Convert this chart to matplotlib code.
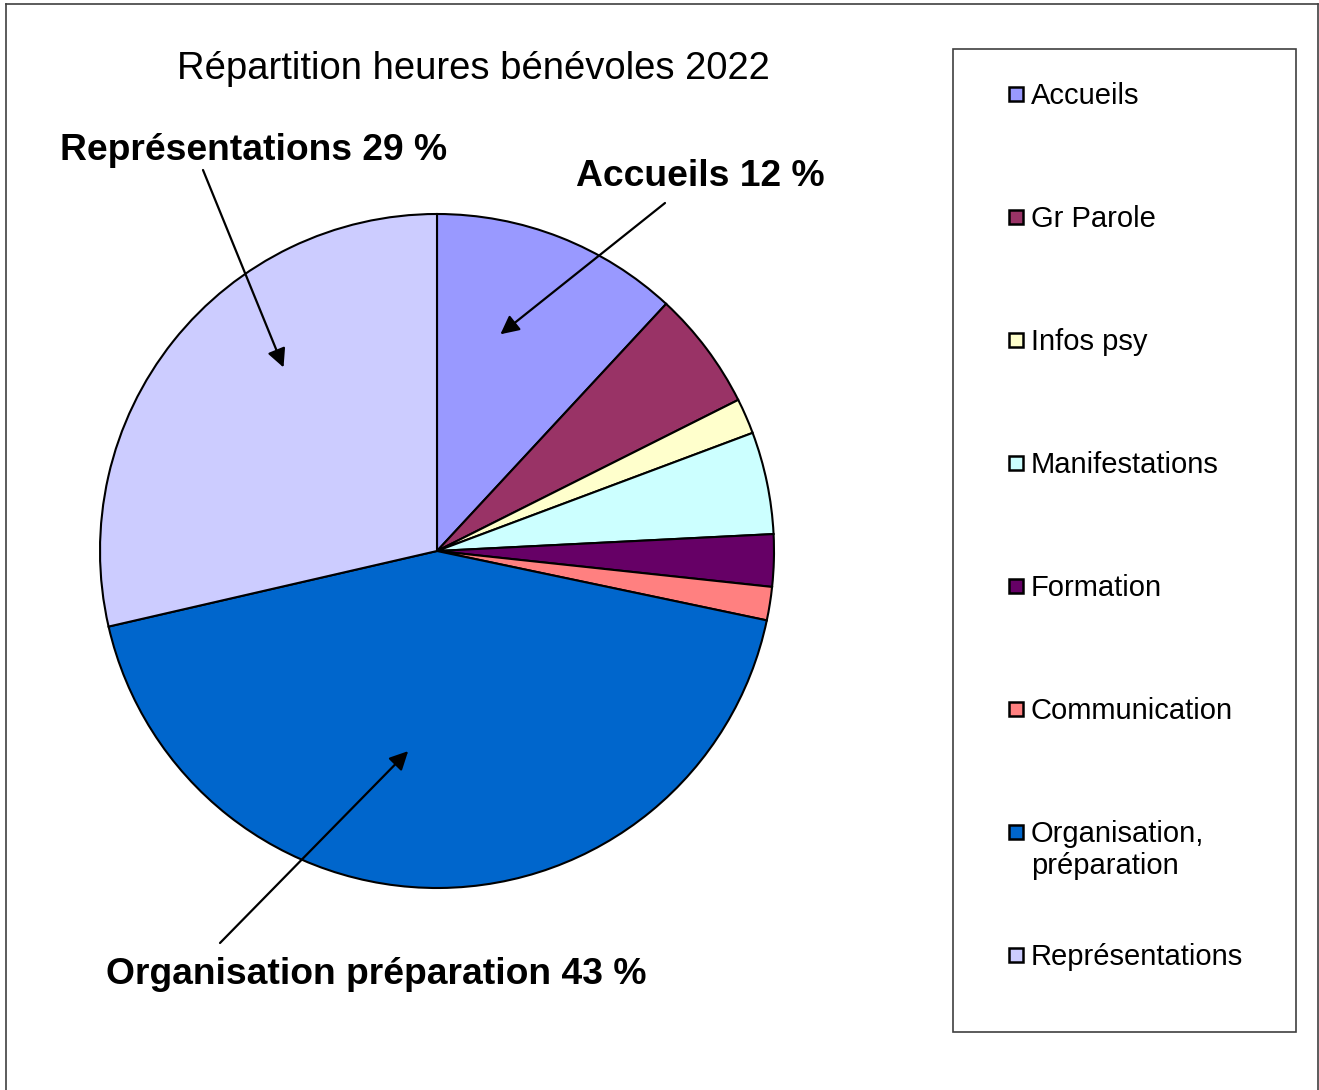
import matplotlib.pyplot as plt
from matplotlib.patches import Rectangle
from matplotlib.lines import Line2D
import numpy as np

plt.rcParams['font.family'] = ['Liberation Sans', 'DejaVu Sans']

# donnees
categories = ['Accueils', 'Gr Parole', 'Infos psy', 'Manifestations', 'Formation',
              'Communication', 'Organisation, préparation', 'Représentations']
legend_labels = ['Accueils', 'Gr Parole', 'Infos psy', 'Manifestations', 'Formation',
                 'Communication', 'Organisation,\npréparation', 'Représentations']
pourcentages = [11.9, 5.7, 1.7, 4.9, 2.5, 1.6, 43.1, 28.6]
couleurs = ['#9999FF', '#993366', '#FFFFCC', '#CCFFFF', '#660066',
            '#FF8080', '#0066CC', '#CCCCFF']

# etiquettes avec fleche: (index, texte, position texte px, debut fleche px, angle pointe, rayon pointe)
etiquettes = [
    (0, 'Accueils 12 %', (700, 177), (665, 203), 73.7, 0.67),
    (7, 'Représentations 29 %', (254, 150), (203, 170), 129.9, 0.71),
    (6, 'Organisation préparation 43 %', (376, 974), (220, 943), 261.8, 0.60),
]

W, H = 1319, 1090
fig = plt.figure(figsize=(W / 100, H / 100), dpi=100)


def fx(x):
    return x / W


def fy(y):
    return 1 - y / H


# cadre de la figure (pas de bord en bas)
for xs, ys in [((6, 6), (4, H)), ((6, 1318), (4, 4)), ((1318, 1318), (4, H))]:
    fig.add_artist(Line2D([fx(x) for x in xs], [fy(y) for y in ys],
                          color='#404040', lw=1.2))

cx, cy, r = 437, 551, 337
ax = fig.add_axes([fx(cx - r), fy(cy + r), 2 * r / W, 2 * r / H])
ax.pie(pourcentages, colors=couleurs, startangle=90, counterclock=False,
       wedgeprops=dict(edgecolor='black', linewidth=1.5))
ax.set_xlim(-1, 1)
ax.set_ylim(-1, 1)
ax.set_aspect('auto')
ax.axis('off')

fig.text(fx(473), fy(69), 'Répartition heures bénévoles 2022', fontsize=27.5,
         ha='center', va='center')

for idx, txt, (tx, ty), (sx, sy), ang, rr in etiquettes:
    a = np.deg2rad(ang)
    ax.annotate('', xy=(rr * np.cos(a), rr * np.sin(a)), xycoords='data',
                xytext=(fx(sx), fy(sy)), textcoords='figure fraction',
                arrowprops=dict(arrowstyle='-|>', color='black', lw=1.6,
                                mutation_scale=28, shrinkA=0, shrinkB=0))
    fig.text(fx(tx), fy(ty), txt, fontsize=26.8, fontweight='bold',
             ha='center', va='center')

# legende manuelle
fig.add_artist(Rectangle((fx(953), fy(1032)), (1296 - 953) / W, (1032 - 49) / H,
                         transform=fig.transFigure, facecolor='white',
                         edgecolor='#404040', lw=1.2))
for i, (lab, col) in enumerate(zip(legend_labels, couleurs)):
    yc = 94 + 123 * i
    fig.add_artist(Rectangle((fx(1009), fy(yc + 7)), 14 / W, 14 / H,
                             transform=fig.transFigure, facecolor=col,
                             edgecolor='black', lw=1.8))
    fig.text(fx(1031), fy(yc - 12), lab, fontsize=21, ha='left', va='top',
             linespacing=1.2)

fig.savefig('out.png', dpi=100, facecolor='white')
